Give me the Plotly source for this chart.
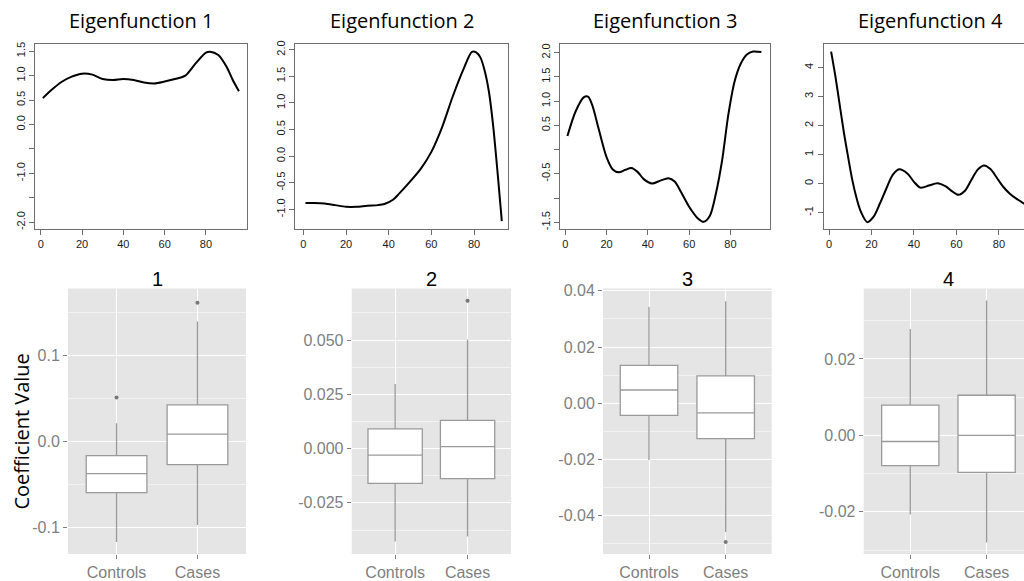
import plotly.graph_objects as go

W, H = 1024, 581

# ---------------- data: eigenfunction curves ----------------
ef1_x = [1, 5, 10, 15, 20, 25, 30, 35, 40, 45, 50, 55, 60, 65, 70, 75, 80, 82, 86, 90, 93, 96]
ef1_y = [0.54, 0.70, 0.87, 0.98, 1.04, 1.02, 0.93, 0.91, 0.93, 0.91, 0.86, 0.84, 0.88, 0.93, 1.00, 1.25, 1.47, 1.49, 1.42, 1.18, 0.91, 0.68]

ef2_x = [1, 5, 10, 15, 20, 25, 30, 35, 38, 42, 45, 50, 55, 60, 65, 70, 75, 79, 81, 83, 85, 87, 89, 91, 93]
ef2_y = [-0.88, -0.88, -0.89, -0.92, -0.95, -0.95, -0.93, -0.92, -0.90, -0.82, -0.70, -0.48, -0.24, 0.08, 0.54, 1.12, 1.63, 1.96, 1.95, 1.85, 1.60, 1.20, 0.55, -0.30, -1.22]

ef3_x = [1, 5, 9, 11, 13, 16, 20, 23, 26, 29, 32, 35, 38, 42, 46, 50, 53, 56, 60, 64, 67, 70, 73, 76, 79, 82, 85, 88, 91, 95]
ef3_y = [0.28, 0.79, 1.08, 1.09, 0.92, 0.45, -0.16, -0.41, -0.47, -0.42, -0.38, -0.46, -0.61, -0.70, -0.64, -0.59, -0.66, -0.87, -1.18, -1.41, -1.49, -1.37, -0.90, -0.22, 0.72, 1.40, 1.77, 1.96, 2.02, 2.01]

ef4_x = [1, 3, 5, 7, 9, 11, 13, 15, 18, 21, 24, 27, 30, 33, 37, 40, 43, 47, 51, 55, 58, 61, 64, 67, 70, 73, 76, 79, 82, 85, 88, 92]
ef4_y = [4.55, 3.70, 2.73, 1.76, 0.91, 0.11, -0.51, -0.97, -1.33, -1.14, -0.68, -0.17, 0.30, 0.49, 0.34, 0.06, -0.14, -0.07, 0.01, -0.10, -0.27, -0.39, -0.25, 0.12, 0.48, 0.625, 0.50, 0.20, -0.11, -0.34, -0.51, -0.70]

top_titles = ["Eigenfunction 1", "Eigenfunction 2", "Eigenfunction 3", "Eigenfunction 4"]
x_ticks_top = [0, 20, 40, 60, 80]
y_ticks_top = [
    [-2, -1.5, -1, -0.5, 0, 0.5, 1, 1.5],
    [-1, -0.5, 0, 0.5, 1, 1.5, 2],
    [-1.5, -1, -0.5, 0, 0.5, 1, 1.5, 2],
    [-1, 0, 1, 2, 3, 4],
]
y_labels_top = [
    ["-2.0", "", "-1.0", "", "0.0", "0.5", "1.0", "1.5"],
    ["-1.0", "-0.5", "0.0", "0.5", "1.0", "1.5", "2.0"],
    ["-1.5", "", "-0.5", "", "0.5", "1.0", "1.5", "2.0"],
    ["-1", "0", "1", "2", "3", "4"],
]

# ---------------- data: coefficient boxplots ----------------
groups = ["Controls", "Cases"]
box_titles = ["1", "2", "3", "4"]
q1 = [[-0.0596, -0.0270], [-0.0160, -0.0138], [-0.0043, -0.0126], [-0.0079, -0.0097]]
med = [[-0.0375, 0.0084], [-0.0030, 0.0009], [0.0047, -0.0034], [-0.0016, 0.0000]]
q3 = [[-0.0165, 0.0426], [0.0091, 0.0130], [0.0135, 0.0097], [0.0079, 0.0105]]
lo = [[-0.1170, -0.0973], [-0.0428, -0.0405], [-0.0202, -0.0458], [-0.0207, -0.0280]]
hi = [[0.0210, 0.1395], [0.0298, 0.0502], [0.0342, 0.0363], [0.0278, 0.0353]]
out_group = [[1, 2], [2], [2], []]
out_val = [[0.0510, 0.1616], [0.0681], [-0.0494], []]

box_major = [
    [-0.1, 0.0, 0.1],
    [-0.025, 0.0, 0.025, 0.05],
    [-0.04, -0.02, 0.0, 0.02, 0.04],
    [-0.02, 0.0, 0.02],
]
box_major_text = [
    ["-0.1", "0.0", "0.1"],
    ["-0.025", "0.000", "0.025", "0.050"],
    ["-0.04", "-0.02", "0.00", "0.02", "0.04"],
    ["-0.02", "0.00", "0.02"],
]
box_minor = [
    [-0.05, 0.05, 0.15],
    [-0.0375, -0.0125, 0.0125, 0.0375, 0.0625],
    [-0.05, -0.03, -0.01, 0.01, 0.03],
    [-0.03, -0.01, 0.01, 0.03],
]

# ---------------- layout geometry ----------------
top_dom_y = [1 - 227 / H, 1 - 39 / H]
top_dom_x = [[35 / W, 247 / W], [295 / W, 508 / W], [560 / W, 770 / W], [823.7 / W, 1.0]]
top_xr = [[-2.8, 99.9], [-3.9, 95.9], [-2.6, 99.2], [-2.5, 91.8]]
top_yr = [[-2.14, 1.64], [-1.37, 2.10], [-1.64, 2.17], [-1.57, 4.80]]
top_title_x = [141, 402, 665, 930]

bot_dom_y = [1 - 557.5 / H, 1 - 287.5 / H]
bot_dom_x = [[68 / W, 246 / W], [351.7 / W, 511 / W], [603 / W, 771.7 / W], [863.7 / W, 1.0]]
bot_xr = [[0.4, 2.6], [0.4, 2.6], [0.4, 2.6], [0.39, 2.49]]
bot_yr = [[-0.131, 0.178], [-0.0485, 0.0737], [-0.0536, 0.0408], [-0.0310, 0.0384]]
bot_title_x = [157, 431, 687, 948]

curves = [(ef1_x, ef1_y), (ef2_x, ef2_y), (ef3_x, ef3_y), (ef4_x, ef4_y)]

fig = go.Figure()
layout = dict(
    width=W, height=H, autosize=False,
    margin=dict(l=0, r=0, t=0, b=0),
    paper_bgcolor="white", plot_bgcolor="white",
    showlegend=False,
    shapes=[], annotations=[],
)

frame_col = "#6e6e6e"
for i in range(4):
    n = i + 1
    xa = "x" if n == 1 else f"x{n}"
    ya = "y" if n == 1 else f"y{n}"
    cx, cy = curves[i]
    fig.add_trace(go.Scatter(x=cx, y=cy, mode="lines", xaxis=xa, yaxis=ya,
                             line=dict(color="black", width=2, shape="spline", smoothing=0.8),
                             hoverinfo="skip"))
    layout[f"xaxis{'' if n == 1 else n}"] = dict(
        domain=top_dom_x[i], anchor=ya, range=top_xr[i],
        tickvals=x_ticks_top, ticktext=[str(v) for v in x_ticks_top],
        ticks="outside", ticklen=5, tickcolor=frame_col,
        showline=True, linecolor=frame_col, linewidth=1, mirror=True,
        showgrid=False, zeroline=False,
        tickfont=dict(family="Liberation Sans", size=11, color="#1a1a1a"),
    )
    layout[f"yaxis{'' if n == 1 else n}"] = dict(
        domain=top_dom_y, anchor=xa, range=top_yr[i],
        tickvals=y_ticks_top[i], ticktext=y_labels_top[i], tickangle=-90,
        ticks="outside", ticklen=5, tickcolor=frame_col,
        showline=True, linecolor=frame_col, linewidth=1, mirror=(i < 3),
        showgrid=False, zeroline=False,
        tickfont=dict(family="Liberation Sans", size=11, color="#1a1a1a"),
    )
    layout["annotations"].append(dict(
        text=top_titles[i], x=top_title_x[i] / W, y=1 - 15 / H, xref="paper", yref="paper",
        xanchor="center", yanchor="middle", showarrow=False,
        font=dict(family="Open Sans", size=20, color="black"),
    ))

box_col = "#9a9a9a"
for i in range(4):
    n = i + 5
    xa, ya = f"x{n}", f"y{n}"
    fig.add_trace(go.Box(
        x=[1, 2], q1=q1[i], median=med[i], q3=q3[i], lowerfence=lo[i], upperfence=hi[i],
        width=0.75, fillcolor="white", line=dict(color=box_col, width=1.3),
        whiskerwidth=0, boxpoints=False, xaxis=xa, yaxis=ya, hoverinfo="skip",
    ))
    if out_val[i]:
        fig.add_trace(go.Scatter(
            x=out_group[i], y=out_val[i], mode="markers", xaxis=xa, yaxis=ya,
            marker=dict(color="#777777", size=4), hoverinfo="skip",
        ))
    layout[f"xaxis{n}"] = dict(
        domain=bot_dom_x[i], anchor=ya, range=bot_xr[i],
        tickvals=[1, 2], ticktext=groups,
        ticks="outside", ticklen=4, tickcolor="#7f7f7f",
        showline=False, showgrid=True, gridcolor="white", gridwidth=1.2, zeroline=False,
        tickfont=dict(family="Liberation Sans", size=16, color="#7f7f7f"),
    )
    layout[f"yaxis{n}"] = dict(
        domain=bot_dom_y, anchor=xa, range=bot_yr[i],
        tickvals=box_major[i], ticktext=box_major_text[i],
        ticks="outside", ticklen=4, tickcolor="#7f7f7f",
        showline=False, showgrid=True, gridcolor="white", gridwidth=1.2, zeroline=False,
        minor=dict(tickvals=box_minor[i], showgrid=True, gridcolor="#F2F2F2", gridwidth=0.8, ticks=""),
        tickfont=dict(family="Liberation Sans", size=16, color="#7f7f7f"),
    )
    layout["shapes"].append(dict(
        type="rect", xref=f"x{n} domain", yref=f"y{n} domain", x0=0, x1=1, y0=0, y1=1,
        fillcolor="#E5E5E5", line=dict(width=0), layer="below",
    ))
    layout["annotations"].append(dict(
        text=box_titles[i], x=bot_title_x[i] / W, y=1 - 278 / H, xref="paper", yref="paper",
        xanchor="center", yanchor="middle", showarrow=False,
        font=dict(family="Liberation Sans", size=20, color="black"),
    ))

layout["annotations"].append(dict(
    text="Coefficient Value", x=22 / W, y=1 - 433 / H, xref="paper", yref="paper",
    xanchor="center", yanchor="middle", showarrow=False, textangle=-90,
    font=dict(family="Open Sans", size=20, color="black"),
))

fig.update_layout(**layout)
fig.write_html(
    "out.html",
    config={"displayModeBar": False},
    post_script="document.body.style.margin='0px';document.body.style.overflow='hidden';",
)
